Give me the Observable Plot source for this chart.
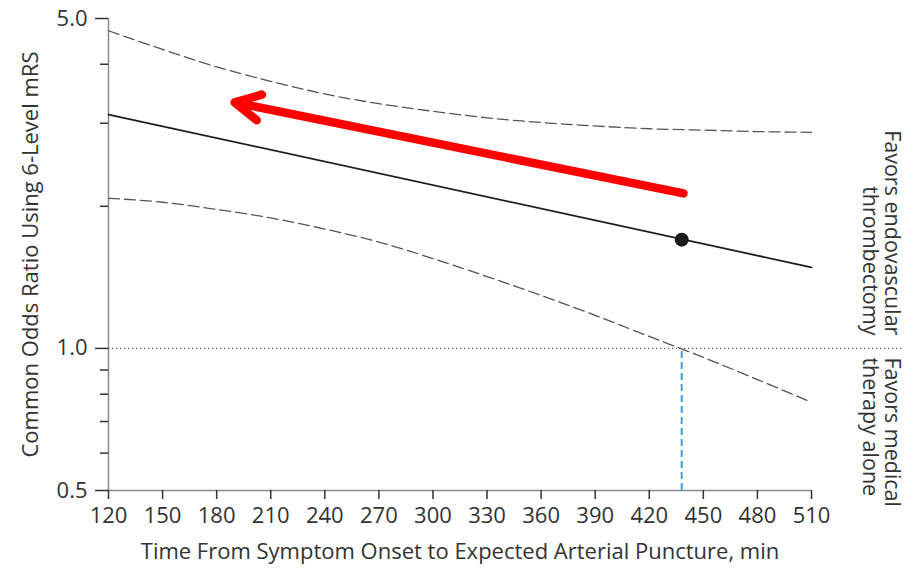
<!DOCTYPE html>
<html>
<head>
<meta charset="utf-8">
<script src="https://cdn.jsdelivr.net/npm/d3@7"></script>
<script src="https://cdn.jsdelivr.net/npm/@observablehq/plot@0.6"></script>
<style>
  html, body { margin: 0; padding: 0; background: #fff; }
  #chart svg { display: block; }
</style>
</head>
<body>
<div id="chart"></div>
<script>
// ---- Data ----
const ciTime  = [120, 150, 180, 210, 240, 270, 300, 330, 360, 390, 420, 450, 480, 510];
const ciUpper = [4.71, 4.30, 3.95, 3.68, 3.46, 3.30, 3.18, 3.08, 3.01, 2.96, 2.92, 2.90, 2.88, 2.87];
const ciLower = [2.08, 2.04, 1.97, 1.89, 1.79, 1.68, 1.55, 1.42, 1.295, 1.175, 1.06, 0.957, 0.859, 0.769];

const estTime = [120, 510];
const estOR   = [3.13, 1.485];

const pointTime = [438];
const pointOR   = [1.70];

const nullOR = 1.0;
const crossTime = 438;

const arrowTime = [439, 190];   // tail, tip
const arrowOR   = [2.13, 3.32];

const xTicks = [120, 150, 180, 210, 240, 270, 300, 330, 360, 390, 420, 450, 480, 510];
const yMajorTicks = [0.5, 1, 5];
const yMinorTicks = [0.6, 0.7, 0.8, 0.9, 2, 3, 4];

const xTitle = "Time From Symptom Onset to Expected Arterial Puncture, min";
const yTitle = "Common Odds Ratio Using 6-Level mRS";
const upperSide = "Favors endovascular\nthrombectomy";
const lowerSide = "Favors medical\ntherapy alone";

// ---- Build tables ----
const ciData = ciTime.map((t, i) => ({t, upper: ciUpper[i], lower: ciLower[i]}));
const estData = estTime.map((t, i) => ({t, or: estOR[i]}));
const pointData = pointTime.map((t, i) => ({t, or: pointOR[i]}));
const arrowData = [{x1: arrowTime[0], y1: arrowOR[0], x2: arrowTime[1], y2: arrowOR[1]}];

const FONT = "Open Sans";
const TXT = "#333";

const chart = Plot.plot({
  width: 922,
  height: 568,
  marginLeft: 108,
  marginRight: 111,
  marginTop: 18,
  marginBottom: 78,
  style: {fontFamily: FONT, fontSize: "22px", color: TXT, background: "#fff", overflow: "visible"},
  x: {domain: [120, 510]},
  y: {type: "log", domain: [0.5, 5]},
  marks: [
    // axis lines
    Plot.ruleX([120], {stroke: "#8a8a8a", strokeWidth: 1.5}),
    Plot.ruleY([0.5], {stroke: "#8a8a8a", strokeWidth: 1.5}),
    Plot.axisX({
      ticks: xTicks, tickFormat: d => String(d), tickSize: 9, tickPadding: 8,
      stroke: "#333", strokeWidth: 1.5,
      label: xTitle, labelAnchor: "center", labelArrow: "none", labelOffset: 68,
      fill: TXT
    }),
    Plot.axisY({
      ticks: yMajorTicks, tickFormat: d => d.toFixed(1),
      tickSize: 13, tickPadding: 8, stroke: "#333", strokeWidth: 1.5,
      label: yTitle, labelAnchor: "center", labelArrow: "none", labelOffset: 86,
      fill: TXT
    }),
    Plot.axisY({
      ticks: yMinorTicks, tickFormat: () => "", label: null,
      tickSize: 8, stroke: "#333", strokeWidth: 1.5
    }),
    // null line, extended to the right labels
    Plot.ruleY([nullOR], {x1: 120, x2: 561, stroke: "#666", strokeWidth: 1.3, strokeDasharray: "1.3,2.7"}),
    // confidence bands
    Plot.line(ciData, {x: "t", y: "upper", curve: "monotone-x", stroke: "#555", strokeWidth: 1.3, strokeDasharray: "11,5"}),
    Plot.line(ciData, {x: "t", y: "lower", curve: "monotone-x", stroke: "#555", strokeWidth: 1.3, strokeDasharray: "11,5"}),
    // estimate
    Plot.line(estData, {x: "t", y: "or", stroke: "#1e1e1e", strokeWidth: 1.8}),
    // crossing time
    Plot.ruleX([crossTime], {y1: 0.5, y2: nullOR, stroke: "#34a3dc", strokeWidth: 2, strokeDasharray: "7,4"}),
    Plot.dot(pointData, {x: "t", y: "or", r: 7, fill: "#1a1a1a", stroke: "none"}),
    // red arrow
    Plot.arrow(arrowData, {x1: "x1", y1: "y1", x2: "x2", y2: "y2", stroke: "#ff0000", strokeWidth: 8.5,
      headLength: 5.0, headAngle: 55, strokeLinecap: "round", strokeLinejoin: "round"}),
    // side labels
    Plot.text([upperSide], {y: [nullOR], frameAnchor: "right", dx: 89, dy: -13, rotate: 90,
      textAnchor: "end", lineAnchor: "top", lineHeight: 1.03, fill: TXT, fontSize: 21.5}),
    Plot.text([lowerSide], {y: [nullOR], frameAnchor: "right", dx: 89, dy: 9, rotate: 90,
      textAnchor: "start", lineAnchor: "top", lineHeight: 1.03, fill: TXT, fontSize: 21.5})
  ]
});

document.getElementById("chart").appendChild(chart);
</script>
</body>
</html>
